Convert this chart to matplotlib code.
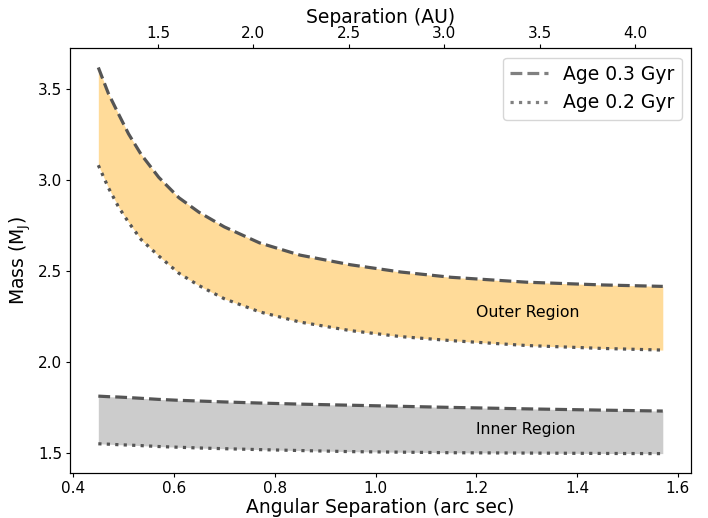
import matplotlib
matplotlib.use('Agg')
import matplotlib.pyplot as plt
from matplotlib.lines import Line2D
import numpy as np

# angular separation (arc sec) and masses (M_J)
sep = np.array([0.45, 0.47, 0.49, 0.51, 0.535, 0.57, 0.61, 0.65, 0.70, 0.77, 0.85,
                0.95, 1.05, 1.15, 1.30, 1.45, 1.57])
outer_03 = np.array([3.621, 3.478, 3.366, 3.256, 3.143, 3.017, 2.905, 2.825, 2.745, 2.657, 2.59,
                     2.537, 2.497, 2.468, 2.441, 2.426, 2.418])
outer_02 = np.array([3.084, 2.96, 2.855, 2.77, 2.675, 2.585, 2.49, 2.422, 2.35, 2.278, 2.222,
                     2.175, 2.142, 2.12, 2.093, 2.077, 2.068])
inner_03 = np.array([1.815, 1.812, 1.810, 1.807, 1.803, 1.797, 1.792, 1.788, 1.783, 1.777, 1.771,
                     1.765, 1.759, 1.753, 1.745, 1.738, 1.733])
inner_02 = np.array([1.553, 1.551, 1.548, 1.546, 1.543, 1.538, 1.534, 1.530, 1.526, 1.521, 1.516,
                     1.510, 1.507, 1.504, 1.502, 1.500, 1.499])
dist_pc = 2.64  # AU per arc sec

fig = plt.figure(figsize=(7.08, 5.18), dpi=100)
ax = fig.add_subplot(111)
fig.subplots_adjust(left=0.099, right=0.976, top=0.907, bottom=0.087)

ax.fill_between(sep, outer_02, outer_03, color='orange', alpha=0.4, lw=0)
ax.fill_between(sep, inner_02, inner_03, color='gray', alpha=0.4, lw=0)
ax.plot(sep, outer_03, '--', color='#555555', lw=2.3)
ax.plot(sep, outer_02, ':', color='#555555', lw=2.3)
ax.plot(sep, inner_03, '--', color='#555555', lw=2.3)
ax.plot(sep, inner_02, ':', color='#555555', lw=2.3)

ax.text(1.2, 2.25, 'Outer Region', fontsize=11.3)
ax.text(1.2, 1.605, 'Inner Region', fontsize=11.3)

handles = [Line2D([], [], ls='--', color='#808080', lw=2.3),
           Line2D([], [], ls=':', color='#808080', lw=2.3)]
ax.legend(handles, ['Age 0.3 Gyr', 'Age 0.2 Gyr'], loc='upper right', fontsize=13.5)

ax.set_xlabel('Angular Separation (arc sec)', fontsize=13.5, labelpad=2)
ax.set_ylabel(r'Mass (M$_{\rm J}$)', fontsize=13.5, labelpad=4)
ax.tick_params(labelsize=11, length=3, pad=2.5)

ax2 = ax.twiny()
lo, hi = ax.get_xlim()
ax2.set_xlim(lo * dist_pc, hi * dist_pc)
ax2.set_xticks([1.5, 2.0, 2.5, 3.0, 3.5, 4.0])
ax2.set_xlabel('Separation (AU)', fontsize=13.5, labelpad=2)
ax2.tick_params(labelsize=11, length=3, pad=2.5)

fig.savefig('out.png', dpi=100)
